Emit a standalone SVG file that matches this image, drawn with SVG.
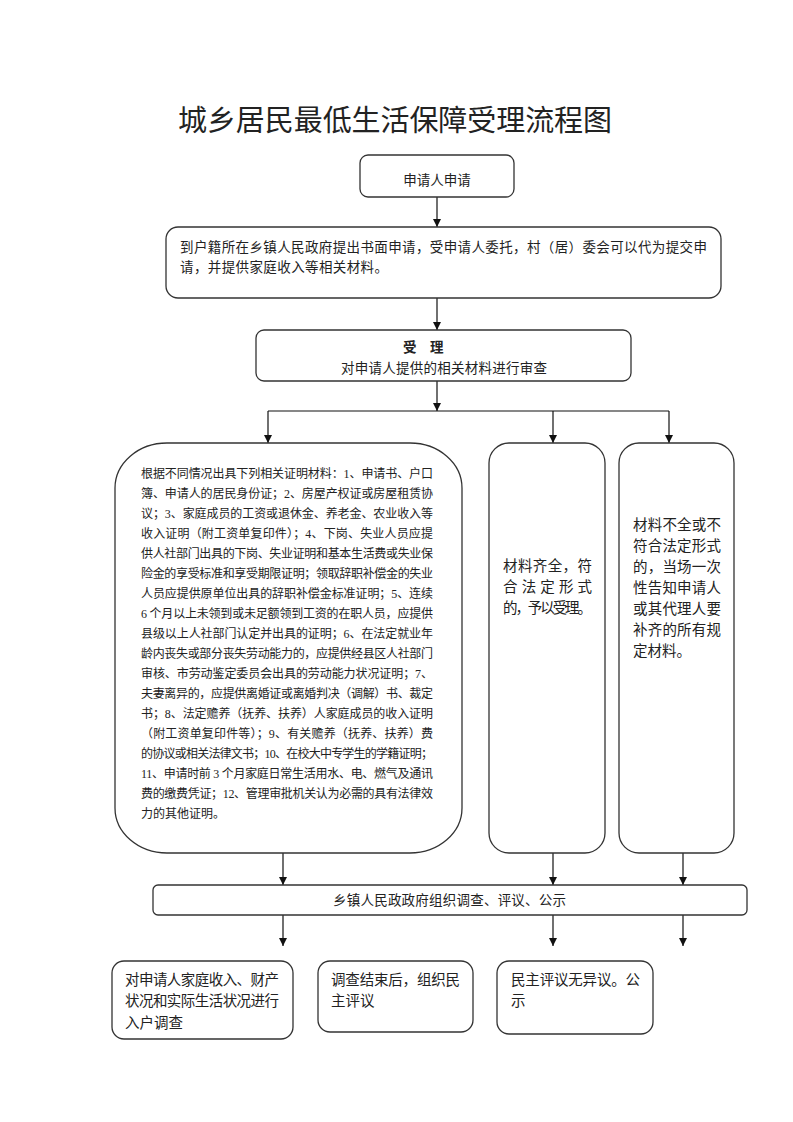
<svg xmlns="http://www.w3.org/2000/svg" width="793" height="1122" viewBox="0 0 793 1122">
<defs>
<style>
.bx{fill:#fff;stroke:#333;stroke-width:1.3}
.t{font-family:"Liberation Serif","Noto Sans CJK SC",sans-serif;fill:#222}
.s13{font-size:13.5px}
.s12{font-size:12px}
.s14{font-size:14.5px}
.ln{fill:none;stroke:#111;stroke-width:1.2}
</style>
<marker id="ah" viewBox="0 0 10 10" refX="10" refY="5" markerWidth="8" markerHeight="8" markerUnits="userSpaceOnUse" orient="auto">
<path d="M0,0 L10,5 L0,10 z" fill="#111"/>
</marker>
</defs>
<rect width="793" height="1122" fill="#fff"/>
<text id="title" x="178" y="131" class="t" style="font-size:29px" textLength="434" lengthAdjust="spacing">城乡居民最低生活保障受理流程图</text>

<g id="connectors">
<line class="ln" x1="437" y1="197" x2="437" y2="227" marker-end="url(#ah)"/>
<line class="ln" x1="437" y1="298" x2="437" y2="330" marker-end="url(#ah)"/>
<line class="ln" x1="437" y1="381" x2="437" y2="411" marker-end="url(#ah)"/>
<polyline class="ln" points="268,411 268,411 669,411"/>
<line class="ln" x1="268" y1="411" x2="268" y2="443" marker-end="url(#ah)"/>
<line class="ln" x1="553" y1="411" x2="553" y2="443" marker-end="url(#ah)"/>
<line class="ln" x1="669" y1="411" x2="669" y2="443" marker-end="url(#ah)"/>
<line class="ln" x1="283" y1="853" x2="283" y2="885" marker-end="url(#ah)"/>
<line class="ln" x1="553" y1="853" x2="553" y2="885" marker-end="url(#ah)"/>
<line class="ln" x1="683" y1="853" x2="683" y2="885" marker-end="url(#ah)"/>
<line class="ln" x1="283" y1="915" x2="283" y2="946" marker-end="url(#ah)"/>
<line class="ln" x1="553" y1="915" x2="553" y2="946" marker-end="url(#ah)"/>
<line class="ln" x1="683" y1="915" x2="683" y2="946" marker-end="url(#ah)"/>
</g>

<g id="n-apply">
<rect class="bx" x="360" y="155" width="154" height="42" rx="8"/>
<text class="t s13" x="437" y="185" text-anchor="middle">申请人申请</text>
</g>

<g id="n-submit">
<rect class="bx" x="166" y="227" width="555" height="71" rx="12"/>
<text class="t s13" x="180" y="252" textLength="527" lengthAdjust="spacing">到户籍所在乡镇人民政府提出书面申请，受申请人委托，村（居）委会可以代为提交申</text>
<text class="t s13" x="180" y="272" textLength="208" lengthAdjust="spacing">请，并提供家庭收入等相关材料。</text>
</g>

<g id="n-accept">
<rect class="bx" x="256" y="330" width="375" height="51" rx="8"/>
<text class="t s13" x="403" y="352" font-weight="bold">受　理</text>
<text class="t s13" x="341" y="373" textLength="206" lengthAdjust="spacing">对申请人提供的相关材料进行审查</text>
</g>

<g id="n-docs">
<path class="bx" d="M167,443 L410,443 A52,45 0 0 1 462,488 L462,808 A52,45 0 0 1 410,853 L167,853 A52,45 0 0 1 115,808 L115,488 A52,45 0 0 1 167,443 Z"/>
<g class="t s12">
<text x="141" y="478" textLength="292" lengthAdjust="spacing">根据不同情况出具下列相关证明材料：1、申请书、户口</text>
<text x="141" y="498" textLength="292" lengthAdjust="spacing">簿、申请人的居民身份证；2、房屋产权证或房屋租赁协</text>
<text x="141" y="518" textLength="292" lengthAdjust="spacing">议；3、家庭成员的工资或退休金、养老金、农业收入等</text>
<text x="141" y="538" textLength="292" lengthAdjust="spacing">收入证明（附工资单复印件）；4、下岗、失业人员应提</text>
<text x="141" y="558" textLength="292" lengthAdjust="spacing">供人社部门出具的下岗、失业证明和基本生活费或失业保</text>
<text x="141" y="578" textLength="292" lengthAdjust="spacing">险金的享受标准和享受期限证明；领取辞职补偿金的失业</text>
<text x="141" y="598" textLength="292" lengthAdjust="spacing">人员应提供原单位出具的辞职补偿金标准证明；5、连续</text>
<text x="141" y="618" textLength="292" lengthAdjust="spacing">6 个月以上未领到或未足额领到工资的在职人员，应提供</text>
<text x="141" y="638" textLength="292" lengthAdjust="spacing">县级以上人社部门认定并出具的证明；6、在法定就业年</text>
<text x="141" y="658" textLength="292" lengthAdjust="spacing">龄内丧失或部分丧失劳动能力的，应提供经县区人社部门</text>
<text x="141" y="678" textLength="292" lengthAdjust="spacing">审核、市劳动鉴定委员会出具的劳动能力状况证明；7、</text>
<text x="141" y="698" textLength="292" lengthAdjust="spacing">夫妻离异的，应提供离婚证或离婚判决（调解）书、裁定</text>
<text x="141" y="718" textLength="292" lengthAdjust="spacing">书；8、法定赡养（抚养、扶养）人家庭成员的收入证明</text>
<text x="141" y="738" textLength="292" lengthAdjust="spacing">（附工资单复印件等）；9、有关赡养（抚养、扶养）费</text>
<text x="141" y="758" textLength="292" lengthAdjust="spacing">的协议或相关法律文书；10、在校大中专学生的学籍证明；</text>
<text x="141" y="778" textLength="292" lengthAdjust="spacing">11、申请时前 3 个月家庭日常生活用水、电、燃气及通讯</text>
<text x="141" y="798" textLength="292" lengthAdjust="spacing">费的缴费凭证；12、管理审批机关认为必需的具有法律效</text>
<text x="141" y="818">力的其他证明。</text>
</g>
</g>

<g id="n-complete">
<rect class="bx" x="489" y="443" width="116" height="410" rx="20"/>
<g class="t s14">
<text x="503" y="571" textLength="89" lengthAdjust="spacing">材料齐全，符</text>
<text x="503" y="592" textLength="89" lengthAdjust="spacing">合法定形式</text>
<text x="503" y="613" textLength="89" lengthAdjust="spacing">的，予以受理。</text>
</g>
</g>

<g id="n-incomplete">
<rect class="bx" x="619" y="443" width="115" height="410" rx="20"/>
<g class="t s14">
<text x="633" y="530" textLength="88" lengthAdjust="spacing">材料不全或不</text>
<text x="633" y="551" textLength="88" lengthAdjust="spacing">符合法定形式</text>
<text x="633" y="572" textLength="88" lengthAdjust="spacing">的，当场一次</text>
<text x="633" y="593" textLength="88" lengthAdjust="spacing">性告知申请人</text>
<text x="633" y="614" textLength="88" lengthAdjust="spacing">或其代理人要</text>
<text x="633" y="635" textLength="88" lengthAdjust="spacing">补齐的所有规</text>
<text x="633" y="656">定材料。</text>
</g>
</g>

<g id="n-town">
<rect class="bx" x="153" y="885" width="594" height="30" rx="5"/>
<text class="t s13" x="333" y="905" textLength="233" lengthAdjust="spacing">乡镇人民政政府组织调查、评议、公示</text>
</g>

<g id="n-survey">
<rect class="bx" x="112" y="961" width="181" height="78" rx="12"/>
<g class="t s14">
<text x="125" y="985" textLength="154" lengthAdjust="spacing">对申请人家庭收入、财产</text>
<text x="125" y="1006" textLength="154" lengthAdjust="spacing">状况和实际生活状况进行</text>
<text x="125" y="1028">入户调查</text>
</g>
</g>

<g id="n-review">
<rect class="bx" x="318" y="961" width="155" height="71" rx="12"/>
<g class="t s14">
<text x="331" y="985" textLength="129" lengthAdjust="spacing">调查结束后，组织民</text>
<text x="331" y="1006">主评议</text>
</g>
</g>

<g id="n-publish">
<rect class="bx" x="497" y="961" width="156" height="73" rx="12"/>
<g class="t s14">
<text x="511" y="985" textLength="129" lengthAdjust="spacing">民主评议无异议。公</text>
<text x="511" y="1006">示</text>
</g>
</g>
</svg>
